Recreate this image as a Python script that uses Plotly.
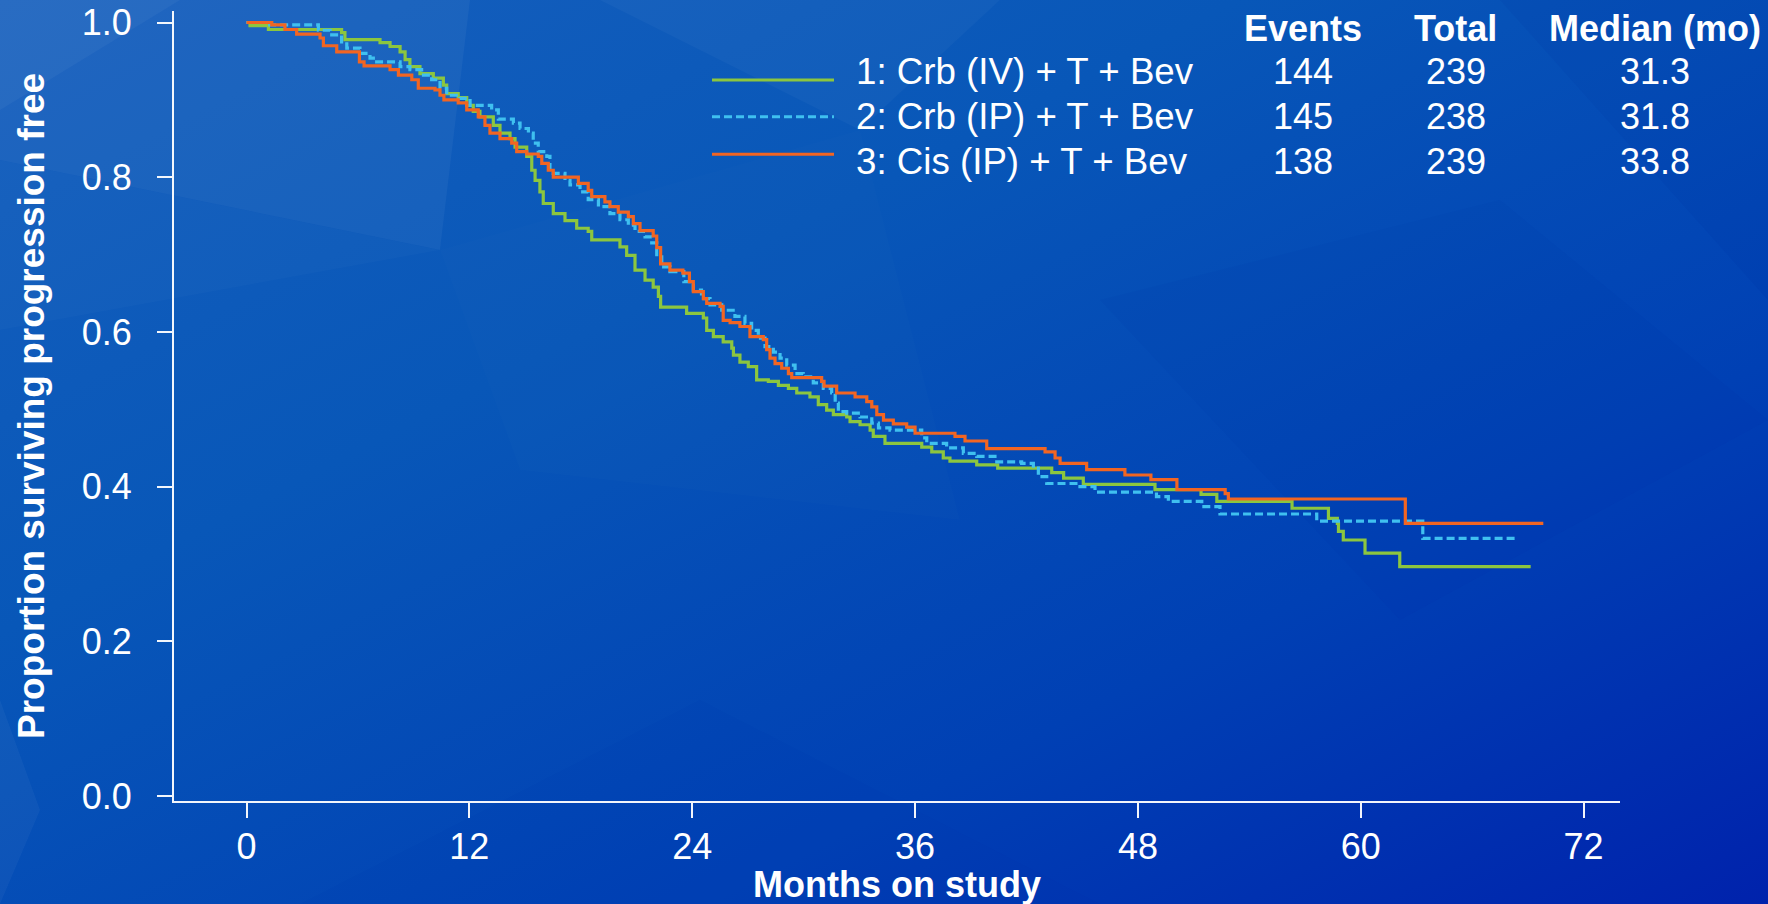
import base64
import plotly.graph_objects as go

# ---------------- data ----------------
arm_labels = ["1: Crb (IV) + T + Bev", "2: Crb (IP) + T + Bev", "3: Cis (IP) + T + Bev"]
events = ["144", "145", "138"]
totals = ["239", "238", "239"]
medians = ["31.3", "31.8", "33.8"]
table_headers = ["Events", "Total", "Median (mo)"]

x_ticks = [0, 12, 24, 36, 48, 60, 72]
y_ticks = [0.0, 0.2, 0.4, 0.6, 0.8, 1.0]
y_ticktext = ["0.0", "0.2", "0.4", "0.6", "0.8", "1.0"]

t1 = [0, 0.19, 1.18, 5.12, 5.3, 7.19, 7.73, 8.27, 8.54, 8.8, 9.34, 10.06, 10.6, 10.78, 11.4,
      11.86, 12.21, 12.57, 13.29, 13.65, 14.19, 14.46, 15.09, 15.36, 15.54, 15.8, 15.98, 16.52,
      17.15, 17.78, 18.4, 18.59, 20.11, 20.47, 20.92, 21.46, 21.9, 22.18, 22.3, 23.7, 24.6, 24.78,
      25.14, 25.67, 26.13, 26.22, 26.57, 27.02, 27.47, 28.1, 28.64, 29.18, 29.63, 30.34, 30.79,
      31.24, 31.6, 32.32, 32.5, 33.04, 33.58, 33.75, 34.38, 36.36, 36.9, 37.52, 37.88, 39.32,
      40.45, 43.36, 44.0, 45.06, 48.92, 51.4, 52.25, 56.3, 58.26, 58.74, 58.8, 59.06, 60.23,
      62.1, 69.15]
s1 = [1.0, 0.996, 0.991, 0.987, 0.978, 0.974, 0.969, 0.962, 0.952, 0.943, 0.934, 0.928, 0.919,
      0.908, 0.903, 0.893, 0.885, 0.878, 0.867, 0.857, 0.850, 0.839, 0.827, 0.809, 0.796, 0.781,
      0.766, 0.753, 0.744, 0.734, 0.730, 0.719, 0.710, 0.699, 0.680, 0.667, 0.658, 0.646, 0.632,
      0.624, 0.618, 0.602, 0.594, 0.587, 0.579, 0.570, 0.561, 0.555, 0.538, 0.536, 0.531, 0.527,
      0.521, 0.516, 0.506, 0.499, 0.493, 0.490, 0.484, 0.480, 0.473, 0.465, 0.456, 0.451, 0.445,
      0.437, 0.433, 0.428, 0.424, 0.418, 0.411, 0.403, 0.396, 0.390, 0.381, 0.372, 0.359, 0.3525,
      0.342, 0.331, 0.314, 0.2965, 0.2965]

t2 = [0, 1.0, 3.87, 4.5, 5.12, 5.4, 6.11, 6.65, 7.01, 8.27, 8.8, 9.43, 9.97, 10.42, 10.78, 11.5,
      12.04, 13.2, 13.56, 14.37, 14.73, 15.18, 15.44, 15.71, 16.17, 16.34, 17.15, 17.42, 17.96,
      18.4, 18.95, 19.57, 20.11, 20.56, 20.92, 21.46, 21.82, 22.09, 22.36, 22.8, 23.55, 24.06,
      24.5, 24.96, 25.59, 26.3, 26.84, 27.2, 27.56, 27.92, 28.37, 28.73, 29.09, 29.54, 29.98,
      30.52, 31.06, 31.51, 31.7, 31.87, 32.32, 33.04, 33.67, 34.03, 34.65, 36.36, 36.63, 37.7,
      38.6, 39.32, 40.4, 41.74, 42.37, 42.64, 43.09, 44.88, 45.69, 49.0, 49.64, 51.44, 52.42,
      57.63, 63.34, 68.3]
s2 = [1.0, 0.997, 0.990, 0.984, 0.975, 0.967, 0.960, 0.954, 0.949, 0.943, 0.939, 0.932, 0.926,
      0.915, 0.906, 0.902, 0.893, 0.887, 0.875, 0.870, 0.863, 0.857, 0.844, 0.833, 0.827, 0.805,
      0.796, 0.790, 0.781, 0.771, 0.762, 0.753, 0.745, 0.738, 0.730, 0.723, 0.715, 0.697, 0.684,
      0.678, 0.665, 0.654, 0.643, 0.635, 0.628, 0.620, 0.611, 0.602, 0.592, 0.581, 0.574, 0.566,
      0.557, 0.546, 0.542, 0.534, 0.527, 0.521, 0.508, 0.497, 0.495, 0.490, 0.482, 0.476, 0.473,
      0.463, 0.456, 0.450, 0.443, 0.439, 0.432, 0.430, 0.424, 0.413, 0.404, 0.400, 0.393, 0.387,
      0.381, 0.374, 0.3646, 0.3555, 0.333, 0.333]

t3 = [0, 1.36, 2.07, 2.7, 3.96, 4.14, 4.86, 6.08, 6.33, 7.73, 8.18, 8.9, 9.25, 10.15, 10.42,
      10.63, 11.4, 11.86, 12.48, 12.84, 13.11, 13.65, 14.28, 14.55, 15.09, 15.71, 15.9, 16.25,
      16.52, 17.87, 18.4, 18.59, 19.3, 19.57, 20.02, 20.56, 20.83, 21.19, 21.9, 22.09, 22.3, 22.8,
      23.5, 23.85, 24.06, 24.6, 24.78, 25.5, 25.67, 26.04, 26.57, 27.11, 27.83, 28.01, 28.19,
      28.46, 28.82, 29.18, 29.36, 30.97, 31.1, 31.78, 32.77, 33.4, 33.67, 33.94, 34.3, 34.83,
      35.55, 36.0, 38.15, 38.69, 39.86, 43.0, 43.54, 43.81, 45.24, 47.3, 48.7, 50.1, 52.7, 52.87,
      62.4, 69.83]
s3 = [1.0, 0.997, 0.991, 0.985, 0.980, 0.970, 0.962, 0.949, 0.944, 0.939, 0.932, 0.926, 0.915,
      0.913, 0.906, 0.900, 0.896, 0.887, 0.878, 0.867, 0.857, 0.850, 0.844, 0.833, 0.830, 0.827,
      0.818, 0.809, 0.800, 0.792, 0.783, 0.775, 0.768, 0.762, 0.755, 0.749, 0.740, 0.731, 0.724,
      0.709, 0.688, 0.680, 0.676, 0.665, 0.652, 0.643, 0.637, 0.633, 0.615, 0.612, 0.607, 0.594,
      0.590, 0.577, 0.566, 0.559, 0.553, 0.546, 0.541, 0.536, 0.530, 0.521, 0.516, 0.510, 0.503,
      0.493, 0.486, 0.481, 0.477, 0.469, 0.465, 0.459, 0.449, 0.445, 0.437, 0.430, 0.422, 0.415,
      0.409, 0.396, 0.391, 0.384, 0.3525, 0.3525]

# ---------------- styling ----------------
W, H = 1768, 904
ML, MR, MT, MB = 174, 148, 11, 103
PW, PH = W - ML - MR, H - MT - MB
FONT = "Liberation Sans, Arial, Helvetica, sans-serif"
GREEN, BLUE, ORANGE = "#8cc63f", "#3fc0f0", "#f26522"
DASH = "8px,4px"
colors = [GREEN, BLUE, ORANGE]
dashes = ["solid", DASH, "solid"]


def px_to_paper_x(px):
    return (px - ML) / PW


def px_to_paper_y(py):
    return (H - MB - py) / PH


# low-poly blue background as inline SVG
svg = f"""<svg xmlns='http://www.w3.org/2000/svg' width='{W}' height='{H}' viewBox='0 0 {W} {H}'>
<defs><linearGradient id='g' x1='0' y1='0' x2='1' y2='1'>
<stop offset='0' stop-color='#1760be'/><stop offset='0.35' stop-color='#0857b8'/>
<stop offset='0.7' stop-color='#0040b4'/><stop offset='1' stop-color='#0022ac'/></linearGradient></defs>
<rect width='{W}' height='{H}' fill='url(#g)'/>
<polygon points='0,0 470,0 440,250 0,160' fill='#ffffff' fill-opacity='0.045'/>
<polygon points='0,0 180,0 0,110' fill='#ffffff' fill-opacity='0.04'/>
<polygon points='0,160 440,250 0,330' fill='#ffffff' fill-opacity='0.02'/>
<polygon points='600,0 1000,0 860,130' fill='#ffffff' fill-opacity='0.03'/>
<polygon points='440,250 860,130 960,520 520,470' fill='#ffffff' fill-opacity='0.012'/>
<polygon points='0,700 40,810 0,904' fill='#ffffff' fill-opacity='0.04'/>
<polygon points='1100,300 1500,200 1768,420 1400,620' fill='#001090' fill-opacity='0.04'/>
<polygon points='1500,0 1768,0 1768,300' fill='#001090' fill-opacity='0.05'/>
<polygon points='300,904 700,700 1100,904' fill='#001090' fill-opacity='0.03'/>
</svg>"""
bg_src = "data:image/svg+xml;base64," + base64.b64encode(svg.encode()).decode()

fig = go.Figure()
for t, s, c, d, name in zip([t1, t2, t3], [s1, s2, s3], colors, dashes, arm_labels):
    fig.add_trace(go.Scatter(x=t, y=s, mode="lines", line=dict(color=c, width=3.2, dash=d, shape="hv"),
                             name=name, showlegend=False, hoverinfo="skip"))

axis_common = dict(showline=True, linecolor="rgba(255,255,255,0.95)", linewidth=2, ticks="outside",
                   ticklen=15, tickwidth=2, tickcolor="rgba(255,255,255,0.95)", showgrid=False,
                   zeroline=False, tickfont=dict(family=FONT, size=36, color="white"),
                   fixedrange=True, automargin=False)

fig.update_layout(
    width=W, height=H, autosize=False,
    margin=dict(l=ML, r=MR, t=MT, b=MB),
    paper_bgcolor="#0650b6", plot_bgcolor="rgba(0,0,0,0)",
    font=dict(family=FONT, color="white"),
    xaxis=dict(range=[-3.904, 73.96], tickvals=x_ticks, ticklabelstandoff=-2, **axis_common),
    yaxis=dict(range=[-0.00646, 1.0149], tickvals=y_ticks, ticktext=y_ticktext,
               ticklabelstandoff=18, **axis_common),
    images=[dict(source=bg_src, xref="paper", yref="paper", x=-ML / PW, y=1 + MT / PH,
                 sizex=W / PW, sizey=H / PH, sizing="stretch", layer="below",
                 xanchor="left", yanchor="top")],
)

annotations = [
    dict(text="<b>Months on study</b>", x=0.5, y=px_to_paper_y(885), xref="paper", yref="paper",
         showarrow=False, xanchor="center", yanchor="middle", font=dict(family=FONT, size=36, color="white")),
    dict(text="<b>Proportion surviving progression free</b>", x=px_to_paper_x(31), y=0.5,
         xref="paper", yref="paper", showarrow=False, textangle=-90, xanchor="center",
         yanchor="middle", font=dict(family=FONT, size=37, color="white")),
]
col_x = [1303, 1455.5, 1655]
for hdr, cx in zip(table_headers, col_x):
    annotations.append(dict(text=f"<b>{hdr}</b>", x=px_to_paper_x(cx), y=px_to_paper_y(28.5),
                            xref="paper", yref="paper", showarrow=False, xanchor="center",
                            yanchor="middle", font=dict(family=FONT, size=36, color="white")))

text_rows = [71.7, 116.7, 161.7]
line_rows = [80, 116.7, 154.3]
shapes = []
for i in range(3):
    annotations.append(dict(text=arm_labels[i], x=px_to_paper_x(854), y=px_to_paper_y(text_rows[i]),
                            xref="paper", yref="paper", showarrow=False, xanchor="left",
                            yanchor="middle", font=dict(family=FONT, size=36.7, color="white")))
    for val, cx in zip([events[i], totals[i], medians[i]], col_x):
        annotations.append(dict(text=val, x=px_to_paper_x(cx), y=px_to_paper_y(text_rows[i]),
                                xref="paper", yref="paper", showarrow=False, xanchor="center",
                                yanchor="middle", font=dict(family=FONT, size=36, color="white")))
    shapes.append(dict(type="line", xref="paper", yref="paper",
                       x0=px_to_paper_x(712), x1=px_to_paper_x(834),
                       y0=px_to_paper_y(line_rows[i]), y1=px_to_paper_y(line_rows[i]),
                       line=dict(color=colors[i], width=3, dash=dashes[i])))

fig.update_layout(annotations=annotations, shapes=shapes)
fig.write_html("out.html", config={"displayModeBar": False},
               post_script="document.body.style.margin='0px';document.body.style.overflow='hidden';")
